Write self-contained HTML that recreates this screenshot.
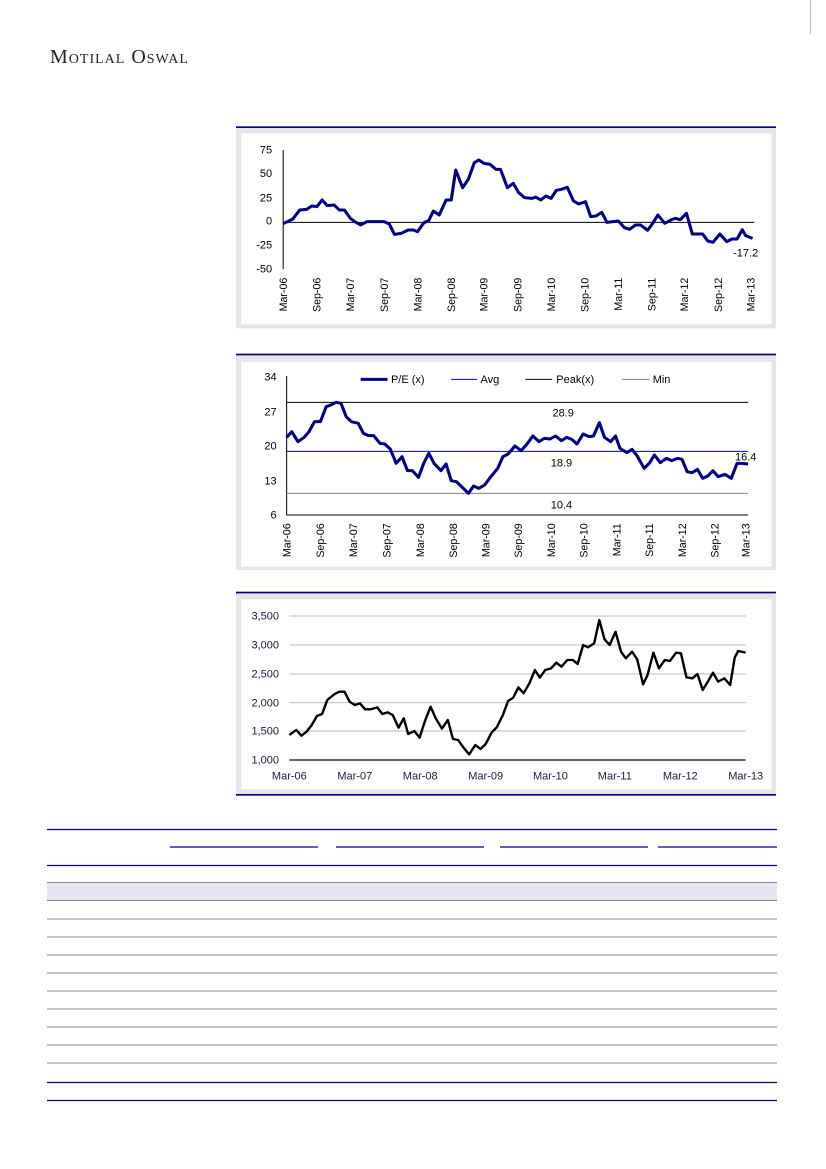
<!DOCTYPE html>
<html><head><meta charset="utf-8"><style>
body{margin:0;width:826px;height:1169px;background:#fff;position:relative;overflow:hidden;font-family:"Liberation Sans",sans-serif}
.abs{position:absolute}
svg text{font-family:"Liberation Sans",sans-serif}
</style></head><body>
<div class="abs" style="left:50px;top:46px;font-family:'Liberation Serif',serif;font-size:20px;color:#222;font-variant:small-caps;letter-spacing:1px">Motilal Oswal</div>
<div class="abs" style="left:810px;top:0;width:1px;height:34px;background:#bbb"></div>

<!-- Chart 1 -->
<svg class="abs" style="left:236px;top:125px" width="540" height="210" viewBox="0 0 1568 630" preserveAspectRatio="none">
<rect x="0" y="8" width="1568" height="602" fill="#e6e6e6"/>
<rect x="0" y="4" width="1568" height="5" fill="#000080"/>
<rect x="15" y="25" width="1540" height="573" fill="#fff"/>
<line x1="137" y1="75" x2="137" y2="432" stroke="#000" stroke-width="3"/>
<line x1="137" y1="292" x2="1505" y2="292" stroke="#000" stroke-width="3"/>
<g font-size="32" text-anchor="end" fill="#000">
<text x="105" y="86">75</text><text x="105" y="156">50</text><text x="105" y="229">25</text><text x="105" y="299">0</text><text x="105" y="371">-25</text><text x="105" y="443">-50</text>
</g>
<g font-size="32" text-anchor="end" fill="#000">
<text transform="translate(148,458) rotate(-90)">Mar-06</text>
<text transform="translate(246,458) rotate(-90)">Sep-06</text>
<text transform="translate(343,458) rotate(-90)">Mar-07</text>
<text transform="translate(441,458) rotate(-90)">Sep-07</text>
<text transform="translate(538,458) rotate(-90)">Mar-08</text>
<text transform="translate(636,458) rotate(-90)">Sep-08</text>
<text transform="translate(731,458) rotate(-90)">Mar-09</text>
<text transform="translate(829,458) rotate(-90)">Sep-09</text>
<text transform="translate(926,458) rotate(-90)">Mar-10</text>
<text transform="translate(1023,458) rotate(-90)">Sep-10</text>
<text transform="translate(1121,458) rotate(-90)">Mar-11</text>
<text transform="translate(1218,458) rotate(-90)">Sep-11</text>
<text transform="translate(1313,458) rotate(-90)">Mar-12</text>
<text transform="translate(1411,458) rotate(-90)">Sep-12</text>
<text transform="translate(1506,458) rotate(-90)">Mar-13</text>
</g>
<text x="1480" y="395" font-size="32" text-anchor="middle">-17.2</text>
<polyline fill="none" stroke="#000080" stroke-width="9" stroke-linejoin="round" points="
137,296 165,282 185,255 205,253 220,243 235,245 250,225 265,242 285,240 300,255 315,255 332,280 345,290 362,300 380,290 430,290 445,297 460,328 480,325 500,315 515,315 527,320 545,294 560,286 573,258 590,270 610,225 625,225 638,135 658,188 675,162 692,113 705,105 720,115 738,118 755,133 768,133 788,188 805,175 820,202 838,218 860,220 870,216 885,225 900,213 915,220 930,196 945,193 962,187 980,228 995,237 1015,230 1030,275 1045,273 1062,262 1077,292 1110,288 1128,308 1143,313 1160,300 1175,300 1195,316 1210,295 1225,270 1245,295 1265,284 1275,280 1290,284 1308,265 1325,327 1355,327 1370,348 1385,352 1405,327 1425,350 1440,342 1455,342 1470,314 1480,332 1500,340"/>
</svg>

<!-- Chart 2 -->
<svg class="abs" style="left:236px;top:350px" width="540" height="230" viewBox="0 0 1568 690" preserveAspectRatio="none">
<rect x="0" y="15" width="1568" height="645" fill="#e6e6e6"/>
<rect x="0" y="11" width="1568" height="5" fill="#000080"/>
<rect x="15" y="35" width="1540" height="615" fill="#fff"/>
<line x1="147" y1="78" x2="147" y2="495" stroke="#000" stroke-width="3"/>
<line x1="147" y1="495" x2="1487" y2="495" stroke="#000" stroke-width="3"/>
<line x1="147" y1="157" x2="1487" y2="157" stroke="#000" stroke-width="3"/>
<line x1="147" y1="304" x2="1487" y2="304" stroke="#0000cc" stroke-width="3"/>
<line x1="147" y1="430" x2="1487" y2="430" stroke="#808080" stroke-width="3"/>
<g font-size="32" text-anchor="end">
<text x="118" y="91">34</text><text x="118" y="196">27</text><text x="118" y="298">20</text><text x="118" y="403">13</text><text x="118" y="506">6</text>
</g>
<g font-size="32" text-anchor="middle">
<text x="950" y="200">28.9</text><text x="945" y="350">18.9</text><text x="945" y="475">10.4</text><text x="1480" y="332">16.4</text>
</g>
<g font-size="32">
<line x1="362" y1="88" x2="440" y2="88" stroke="#000080" stroke-width="9"/><text x="450" y="99">P/E (x)</text>
<line x1="625" y1="88" x2="700" y2="88" stroke="#0000cc" stroke-width="3"/><text x="710" y="99">Avg</text>
<line x1="840" y1="88" x2="918" y2="88" stroke="#000" stroke-width="3"/><text x="930" y="99">Peak(x)</text>
<line x1="1120" y1="88" x2="1200" y2="88" stroke="#808080" stroke-width="3"/><text x="1210" y="99">Min</text>
</g>
<g font-size="32" text-anchor="end">
<text transform="translate(158,520) rotate(-90)">Mar-06</text>
<text transform="translate(256,520) rotate(-90)">Sep-06</text>
<text transform="translate(351,520) rotate(-90)">Mar-07</text>
<text transform="translate(448,520) rotate(-90)">Sep-07</text>
<text transform="translate(546,520) rotate(-90)">Mar-08</text>
<text transform="translate(641,520) rotate(-90)">Sep-08</text>
<text transform="translate(736,520) rotate(-90)">Mar-09</text>
<text transform="translate(831,520) rotate(-90)">Sep-09</text>
<text transform="translate(926,520) rotate(-90)">Mar-10</text>
<text transform="translate(1021,520) rotate(-90)">Sep-10</text>
<text transform="translate(1116,520) rotate(-90)">Mar-11</text>
<text transform="translate(1211,520) rotate(-90)">Sep-11</text>
<text transform="translate(1306,520) rotate(-90)">Mar-12</text>
<text transform="translate(1401,520) rotate(-90)">Sep-12</text>
<text transform="translate(1491,520) rotate(-90)">Mar-13</text>
</g>
<polyline fill="none" stroke="#000080" stroke-width="9" stroke-linejoin="round" points="
147,262 162,245 180,275 198,262 212,245 228,215 245,215 262,170 275,165 290,157 305,160 320,200 335,215 355,220 370,250 385,257 400,257 418,280 432,282 448,297 465,340 482,320 498,362 512,362 530,382 545,340 560,310 575,340 595,362 610,342 625,392 640,395 660,415 675,430 690,408 705,415 722,405 740,380 760,355 775,320 790,312 810,288 828,302 845,282 862,258 880,275 895,265 912,267 928,258 945,272 960,262 975,268 990,282 1008,252 1025,260 1038,258 1055,218 1070,262 1088,275 1102,258 1115,295 1135,308 1150,298 1165,318 1185,355 1200,340 1215,315 1232,338 1250,325 1265,332 1282,325 1295,328 1310,365 1325,368 1340,358 1355,385 1370,378 1385,362 1400,380 1420,373 1438,385 1455,340 1470,340 1487,342"/>
</svg>

<!-- Chart 3 -->
<svg class="abs" style="left:236px;top:590px" width="540" height="210" viewBox="0 0 1568 630" preserveAspectRatio="none">
<rect x="0" y="8" width="1568" height="605" fill="#e6e6e6"/>
<rect x="0" y="5" width="1568" height="5" fill="#000080"/>
<rect x="0" y="612" width="1568" height="5" fill="#000080"/>
<rect x="15" y="28" width="1540" height="570" fill="#fff"/>
<g stroke="#bbb" stroke-width="3">
<line x1="155" y1="78" x2="1480" y2="78"/><line x1="155" y1="165" x2="1480" y2="165"/><line x1="155" y1="252" x2="1480" y2="252"/><line x1="155" y1="338" x2="1480" y2="338"/><line x1="155" y1="423" x2="1480" y2="423"/>
</g>
<line x1="155" y1="510" x2="1480" y2="510" stroke="#000" stroke-width="4"/>
<g font-size="32" text-anchor="end" fill="#1a1a40">
<text x="125" y="89">3,500</text><text x="125" y="176">3,000</text><text x="125" y="263">2,500</text><text x="125" y="349">2,000</text><text x="125" y="434">1,500</text><text x="125" y="521">1,000</text>
</g>
<g font-size="32" text-anchor="middle" fill="#1a1a40">
<text x="155" y="569">Mar-06</text><text x="345" y="569">Mar-07</text><text x="535" y="569">Mar-08</text><text x="725" y="569">Mar-09</text><text x="913" y="569">Mar-10</text><text x="1100" y="569">Mar-11</text><text x="1290" y="569">Mar-12</text><text x="1480" y="569">Mar-13</text>
</g>
<polyline fill="none" stroke="#000" stroke-width="7" stroke-linejoin="round" points="
155,435 175,420 190,437 205,425 220,405 235,378 250,372 265,330 285,313 300,305 315,305 330,335 345,345 360,340 375,358 390,358 410,352 425,372 440,367 455,375 472,413 487,385 500,432 518,423 533,443 548,395 565,350 580,385 598,416 615,390 630,447 645,450 660,472 677,493 695,465 710,477 725,462 742,428 757,412 775,375 790,333 805,323 820,292 835,310 852,280 868,240 882,263 898,240 915,235 930,218 945,230 962,210 978,210 992,222 1008,165 1022,172 1040,160 1055,90 1070,148 1085,165 1102,125 1118,185 1132,205 1150,185 1165,208 1182,283 1195,255 1212,188 1228,235 1245,210 1260,213 1278,188 1292,190 1308,262 1325,265 1340,252 1355,300 1370,275 1385,248 1400,275 1418,265 1435,285 1448,203 1458,183 1480,188"/>
</svg>

<!-- Table -->
<svg class="abs" style="left:0;top:0" width="826" height="1169">
<rect x="47" y="882" width="730" height="18" fill="#e6e6f2"/>
<g stroke="#000080" stroke-width="1.3">
<line x1="47" y1="829.5" x2="777" y2="829.5"/>
<line x1="47" y1="865.5" x2="777" y2="865.5"/>
<line x1="47" y1="1082.5" x2="777" y2="1082.5"/>
<line x1="47" y1="1100.5" x2="777" y2="1100.5"/>
<line x1="170" y1="847" x2="318" y2="847"/>
<line x1="336" y1="847" x2="484" y2="847"/>
<line x1="500" y1="847" x2="648" y2="847"/>
<line x1="658" y1="847" x2="777" y2="847"/>
</g>
<g stroke="#888" stroke-width="1">
<line x1="47" y1="882.5" x2="777" y2="882.5"/>
<line x1="47" y1="900.5" x2="777" y2="900.5"/>
<line x1="47" y1="919" x2="777" y2="919"/>
<line x1="47" y1="937" x2="777" y2="937"/>
<line x1="47" y1="955" x2="777" y2="955"/>
<line x1="47" y1="973" x2="777" y2="973"/>
<line x1="47" y1="991" x2="777" y2="991"/>
<line x1="47" y1="1009" x2="777" y2="1009"/>
<line x1="47" y1="1027" x2="777" y2="1027"/>
<line x1="47" y1="1045" x2="777" y2="1045"/>
<line x1="47" y1="1063" x2="777" y2="1063"/>
</g>
</svg>
</body></html>
